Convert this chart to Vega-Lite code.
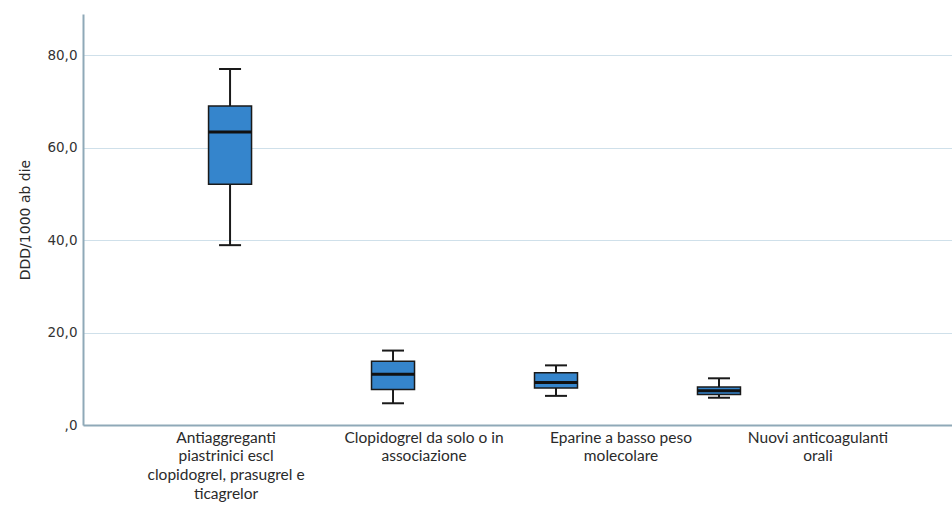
{
  "$schema": "https://vega.github.io/schema/vega-lite/v6.json",
  "width": 869,
  "height": 411,
  "autosize": {"type": "none"},
  "padding": {"left": 83, "top": 14, "right": 0, "bottom": 80},
  "background": "white",
  "config": {"view": {"stroke": null}},
  "data": {"values": [
    {"categoria": "Antiaggreganti piastrinici escl clopidogrel, prasugrel e ticagrelor", "min": 38.9, "q1": 52.1, "mediana": 63.4, "q3": 69.0, "max": 77.0},
    {"categoria": "Clopidogrel da solo o in associazione", "min": 4.7, "q1": 7.7, "mediana": 11.0, "q3": 13.8, "max": 16.1},
    {"categoria": "Eparine a basso peso molecolare", "min": 6.3, "q1": 8.0, "mediana": 9.2, "q3": 11.3, "max": 12.9},
    {"categoria": "Nuovi anticoagulanti orali", "min": 5.9, "q1": 6.6, "mediana": 7.4, "q3": 8.2, "max": 10.1}
  ]},
  "encoding": {
    "x": {
      "field": "categoria", "type": "nominal", "sort": null, "title": null,
      "scale": {"paddingInner": 0, "paddingOuter": 0.666, "align": 0.302},
      "axis": {
        "labelAngle": 0, "ticks": false, "domain": true, "domainColor": "#8fa9b8", "domainWidth": 2,
        "labelFont": "Lato", "labelFontSize": 15.5, "labelFontWeight": "normal", "labelColor": "#2a2a2a", "labelLineHeight": 18.7,
        "labelPadding": 5, "labelBaseline": "top", "labelLimit": 400,
        "labelOffset": {"condition": [
          {"test": "datum.value === 'Clopidogrel da solo o in associazione'", "value": 31},
          {"test": "datum.value === 'Eparine a basso peso molecolare'", "value": 65},
          {"test": "datum.value === 'Nuovi anticoagulanti orali'", "value": 99}
        ], "value": -4},
        "labelExpr": "datum.value === 'Antiaggreganti piastrinici escl clopidogrel, prasugrel e ticagrelor' ? ['Antiaggreganti', 'piastrinici escl', 'clopidogrel, prasugrel e', 'ticagrelor'] : datum.value === 'Clopidogrel da solo o in associazione' ? ['Clopidogrel da solo o in', 'associazione'] : datum.value === 'Eparine a basso peso molecolare' ? ['Eparine a basso peso', 'molecolare'] : ['Nuovi anticoagulanti', 'orali']"
      }
    }
  },
  "layer": [
    {
      "mark": {"type": "rule", "color": "#1a1a1a", "strokeWidth": 2},
      "encoding": {
        "y": {"field": "min", "type": "quantitative", "title": "DDD/1000 ab die",
          "scale": {"domain": [0, 88.9], "nice": false, "zero": true},
          "axis": {
            "values": [0, 20, 40, 60, 80], "ticks": false, "domain": true, "domainColor": "#8fa9b8", "domainWidth": 2,
            "grid": true, "gridColor": "#cfe0ea", "gridWidth": 1.2,
            "labelFont": "DejaVu Sans", "labelFontSize": 13.5, "labelFontWeight": "normal", "labelColor": "#333333", "labelPadding": 6,
            "labelExpr": "datum.value === 0 ? ',0' : replace(format(datum.value, '.1f'), '.', ',')",
            "titleFont": "DejaVu Sans", "titleFontSize": 14, "titleFontWeight": "normal", "titleColor": "#2a2a2a", "titlePadding": 14
          }
        },
        "y2": {"field": "max"}
      }
    },
    {
      "mark": {"type": "bar", "size": 43, "color": "#3585cc", "stroke": "#1a1a1a", "strokeWidth": 1.5},
      "encoding": {"y": {"field": "q1", "type": "quantitative"}, "y2": {"field": "q3"}}
    },
    {
      "mark": {"type": "tick", "size": 43, "thickness": 3, "color": "#111111", "opacity": 1},
      "encoding": {"y": {"field": "mediana", "type": "quantitative"}}
    },
    {
      "mark": {"type": "tick", "size": 22, "thickness": 2, "color": "#1a1a1a", "opacity": 1},
      "encoding": {"y": {"field": "max", "type": "quantitative"}}
    },
    {
      "mark": {"type": "tick", "size": 22, "thickness": 2, "color": "#1a1a1a", "opacity": 1},
      "encoding": {"y": {"field": "min", "type": "quantitative"}}
    }
  ]
}
